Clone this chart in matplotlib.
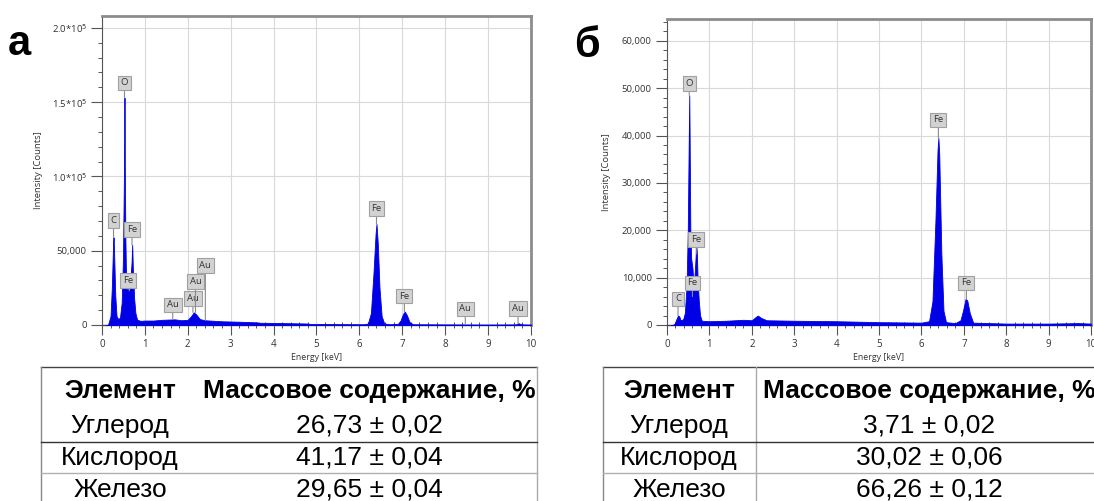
import matplotlib.pyplot as plt
from matplotlib.lines import Line2D
from matplotlib.ticker import MultipleLocator, FuncFormatter

# ---- spectrum a (energy keV, counts)
energy_a = [0.10, 0.14, 0.16, 0.20, 0.23, 0.26, 0.27, 0.28, 0.31, 0.34, 0.38, 0.42, 0.46, 0.49,
            0.51, 0.52, 0.525, 0.53, 0.545, 0.56, 0.58, 0.61, 0.63, 0.66, 0.69, 0.705, 0.72,
            0.75, 0.78, 0.82, 0.90, 1.0, 1.2, 1.4, 1.5, 1.7, 1.85, 2.0, 2.08, 2.14, 2.20, 2.28,
            2.4, 2.8, 3.2, 3.6, 3.7, 4.0, 4.4, 4.8, 4.85, 5.5, 6.1, 6.2, 6.27, 6.33, 6.38, 6.40,
            6.43, 6.47, 6.52, 6.58, 6.7, 6.9, 6.96, 7.02, 7.06, 7.11, 7.17, 7.25, 8.0, 9.0,
            9.65, 9.71, 9.78, 10.0]
counts_a = [0, 0, 2000, 6000, 25000, 55000, 59000, 52000, 20000, 6000, 4000, 5000, 15000, 45000,
            95000, 120000, 153000, 120000, 60000, 35000, 28000, 24000, 20000, 30000, 42000, 54000,
            38000, 18000, 8000, 3500, 2800, 3000, 3000, 3500, 3600, 3800, 3200, 3500, 6000, 8500,
            7000, 4000, 3200, 2500, 2200, 1800, 1500, 1400, 1200, 1000, 700, 600, 500, 1000, 8000,
            35000, 62000, 68000, 55000, 25000, 6000, 1000, 500, 800, 3000, 7500, 9000, 6500, 2000,
            500, 400, 300, 400, 1200, 400, 300]

# ---- spectrum б
energy_b = [0.10, 0.14, 0.18, 0.22, 0.26, 0.29, 0.32, 0.38, 0.42, 0.46, 0.49, 0.51, 0.525, 0.535,
            0.55, 0.57, 0.60, 0.63, 0.66, 0.69, 0.705, 0.72, 0.75, 0.78, 0.82, 1.0, 1.4, 1.6, 1.8,
            2.0, 2.08, 2.14, 2.22, 2.35, 3.0, 4.0, 5.0, 6.0, 6.18, 6.26, 6.33, 6.38, 6.40, 6.42,
            6.47, 6.52, 6.58, 6.8, 6.92, 6.98, 7.04, 7.08, 7.14, 7.22, 8.0, 9.0, 9.7, 10.0]
counts_b = [0, 0, 300, 1200, 2000, 1800, 1000, 1200, 2500, 8000, 20000, 37000, 48500, 38000,
            20000, 14000, 12000, 8000, 12000, 17000, 15000, 10000, 5000, 2000, 900, 800, 900,
            1000, 1100, 1000, 1600, 2000, 1500, 1000, 900, 800, 600, 500, 800, 5000, 22000, 37000,
            39500, 36000, 15000, 3000, 600, 400, 1000, 3000, 5500, 5200, 2500, 500, 300, 300, 400,
            300]

# ---- peak labels
labels_a = ['O', 'C', 'Fe', 'Fe', 'Au', 'Au', 'Au', 'Au', 'Fe', 'Fe', 'Au', 'Au']
lab_x_a = [0.525, 0.27, 0.70, 0.61, 1.65, 2.12, 2.18, 2.41, 6.40, 7.05, 8.47, 9.70]
lab_y_a = [163000, 70500, 64500, 30000, 13500, 18000, 29500, 40000, 78500, 19500, 10800, 11000]
tip_y_a = [153000, 59000, 54000, 24000, 4000, 8500, 8500, 3200, 68000, 9000, 400, 1200]

labels_b = ['O', 'C', 'Fe', 'Fe', 'Fe', 'Fe']
lab_x_b = [0.525, 0.26, 0.69, 0.60, 6.40, 7.06]
lab_y_b = [51000, 5500, 18000, 8900, 43300, 8900]
tip_y_b = [48500, 2000, 15000, 6000, 39500, 5500]

# ---- tables
elements = ['Углерод', 'Кислород', 'Железо']
mass_a = ['26,73 ± 0,02', '41,17 ± 0,04', '29,65 ± 0,04']
mass_b = ['3,71 ± 0,02', '30,02 ± 0,06', '66,26 ± 0,12']

BLUE = '#0000e6'
TICKFONT = 'Open Sans'

fig = plt.figure(figsize=(10.94, 5.01), dpi=100)


def fmt_a(v, pos):
    if v == 0:
        return '0'
    if v < 100000:
        return f'{int(v):,}'
    return '%.1f*10$^5$' % (v / 1e5)


def fmt_b(v, pos):
    return f'{int(v):,}'


def spectrum(ax, e, c, ymax, ymajor, yminor, fmt, labs, lx, ly, ty):
    ax.fill_between(e, 0, c, color=BLUE, lw=0.6, edgecolor=BLUE, zorder=3)
    ax.set_xlim(0, 10)
    ax.set_ylim(0, ymax)
    ax.xaxis.set_major_locator(MultipleLocator(1))
    ax.xaxis.set_minor_locator(MultipleLocator(0.2))
    ax.yaxis.set_major_locator(MultipleLocator(ymajor))
    ax.yaxis.set_minor_locator(MultipleLocator(yminor))
    ax.yaxis.set_major_formatter(FuncFormatter(fmt))
    ax.grid(True, which='major', color='#d9d9d9', lw=0.8, zorder=0)
    ax.set_axisbelow(True)
    for s in ['top', 'right']:
        ax.spines[s].set_color('#8c8c8c')
        ax.spines[s].set_linewidth(2)
    ax.spines['left'].set_color('#555555')
    ax.spines['left'].set_linewidth(0.8)
    ax.spines['bottom'].set_color('#404060')
    ax.spines['bottom'].set_linewidth(1)
    ax.tick_params(axis='x', which='major', direction='out', length=7, width=0.8,
                   color='#555555', labelsize=7, pad=3)
    ax.tick_params(axis='x', which='minor', direction='inout', length=4, width=0.7,
                   color='#555555')
    ax.tick_params(axis='y', which='major', direction='out', length=8, width=0.8,
                   color='#555555', labelsize=6.8, pad=3)
    ax.tick_params(axis='y', which='minor', direction='out', length=3, width=0.7,
                   color='#555555')
    for t in ax.get_xticklabels() + ax.get_yticklabels():
        t.set_fontfamily(TICKFONT)
        t.set_color('#333333')
    ax.set_xlabel('Energy [keV]', fontsize=6.3, family=TICKFONT, color='#333333', labelpad=2)
    ax.set_ylabel('Intensity [Counts]', fontsize=6.8, family=TICKFONT, color='#333333')
    for s, x, y, t in zip(labs, lx, ly, ty):
        ax.annotate(s, xy=(x, t), xytext=(x, y), ha='center', va='center',
                    fontsize=6.8, family=TICKFONT, color='#333333', zorder=5,
                    bbox=dict(boxstyle='square,pad=0.3', fc='#d2d2d2', ec='#a0a0a0', lw=0.8),
                    arrowprops=dict(arrowstyle='-', color='#8a8a8a', lw=0.8,
                                    shrinkA=0, shrinkB=0))


ax_a = fig.add_axes([0.0932, 0.3513, 0.3921, 0.6168])
spectrum(ax_a, energy_a, counts_a, 208000, 50000, 10000, fmt_a,
         labels_a, lab_x_a, lab_y_a, tip_y_a)
ax_a.yaxis.set_label_coords(-0.137, 0.5)

ax_b = fig.add_axes([0.6097, 0.3513, 0.3876, 0.6107])
spectrum(ax_b, energy_b, counts_b, 64600, 10000, 2000, fmt_b,
         labels_b, lab_x_b, lab_y_b, tip_y_b)
ax_b.yaxis.set_label_coords(-0.132, 0.5)

fig.text(8 / 1094, 1 - 55 / 501, 'а', fontsize=30, fontweight='bold',
         family='Liberation Sans', va='baseline', ha='left')
fig.text(574 / 1094, 1 - 57 / 501, 'б', fontsize=30, fontweight='bold',
         family='Liberation Sans', va='baseline', ha='left')


def px(x, y):
    return x / 1094, 1 - y / 501


def vline(x, y0, y1, color):
    xs, ys = zip(px(x, y0), px(x, y1))
    fig.add_artist(Line2D(xs, ys, color=color, lw=1))


def hline(x0, x1, y, color):
    xs, ys = zip(px(x0, y), px(x1, y))
    fig.add_artist(Line2D(xs, ys, color=color, lw=1))


def table(x0, x1, xsep, cx1, cx2, masses, draw_sep):
    hline(x0, x1, 367, '#444444')
    vline(x0, 367, 501, '#888888')
    if x1 < 1090:
        vline(x1, 367, 501, '#aaaaaa')
    if draw_sep:
        vline(xsep, 367, 501, '#aaaaaa')
    hline(x0, x1, 442, '#333333')
    hline(x0, x1, 473, '#b0b0b0')
    hk = dict(fontsize=19, fontweight='bold', family='Liberation Sans', ha='center', va='center')
    fig.text(*px(cx1, 391), 'Элемент', **hk)
    fig.text(*px(cx2, 391), 'Массовое содержание, %', **hk)
    rk = dict(fontsize=19, family='Liberation Sans', ha='center', va='center')
    for i, (el, m) in enumerate(zip(elements, masses)):
        y = 426 + 32 * i
        fig.text(*px(cx1, y), el, **rk)
        fig.text(*px(cx2, y), m, **rk)


table(41, 537, 190, 120, 369, mass_a, False)
table(603, 1094, 756, 679, 929, mass_b, True)

fig.savefig('out.png', dpi=100)
